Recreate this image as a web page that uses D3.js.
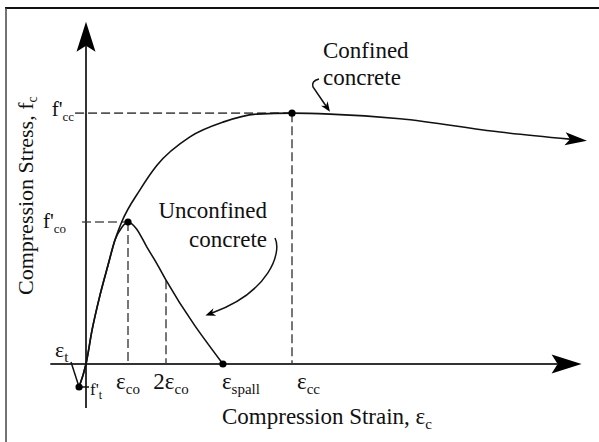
<!DOCTYPE html>
<html>
<head>
<meta charset="utf-8">
<script src="https://cdn.jsdelivr.net/npm/d3@7"></script>
<style>
  body { margin: 0; background: #fff; }
  svg text { font-family: "Liberation Serif", "Times New Roman", serif; fill: #111; }
</style>
</head>
<body>
<svg id="chart" width="599" height="442"></svg>
<script>
// Schematic values: strain in per mille, stress in MPa.
const confinedStrain = [-0.33, 0, 0.29, 0.67, 1.05, 1.38, 1.7, 2.57, 3.38, 4.95, 6.52, 8.14, 9.81, 11.62, 14.95, 19.71, 23.05];
const confinedStress = [-4.86, 0, 7.2, 14.6, 20.9, 26.2, 30.0, 36.8, 42.0, 48.0, 51.1, 52.8, 53.0, 52.8, 51.8, 49.0, 47.5];

const unconfinedStrain = [-0.33, 0, 0.29, 0.67, 1.05, 1.38, 1.71, 2.0, 2.38, 2.9, 3.36, 3.81, 6.52];
const unconfinedStress = [-4.86, 0, 7.2, 14.6, 20.9, 26.2, 28.9, 30.0, 28.7, 24.7, 21.3, 17.7, 0];

// Marked points: tension strength, unconfined peak, confined peak, spalling strain.
const pointNames = ["ft", "fco", "fcc", "spall"];
const pointStrain = [-0.33, 2.0, 9.81, 6.52];
const pointStress = [-4.86, 30.0, 53.0, 0];

// Strain labels along the x axis.
const strainTickMain = ["\u03b5", "2\u03b5", "\u03b5", "\u03b5"];
const strainTickSub = ["co", "co", "spall", "cc"];
const strainTickValue = [2.0, 3.81, 6.52, 9.81];

const xExtent = [-1.7, 23.6];
const yExtent = [-9.3, 72.3];

const svg = d3.select("#chart");

const x = d3.scaleLinear().domain([0, 20]).range([86, 506]);
const y = d3.scaleLinear().domain([0, 30]).range([364, 222]);

// Arrow heads (swept back shape).
const defs = svg.append("defs");
function arrowMarker(id, len, half, notch) {
    defs.append("marker")
        .attr("id", id)
        .attr("markerUnits", "userSpaceOnUse")
        .attr("orient", "auto")
        .attr("viewBox", (-len - 1) + " " + (-half - 1) + " " + (len + 2) + " " + (2 * half + 2))
        .attr("markerWidth", len + 2)
        .attr("markerHeight", 2 * half + 2)
        .attr("refX", -notch)
        .attr("refY", 0)
        .append("path")
        .attr("d", "M0,0 L" + (-len) + "," + (-half) + " L" + (-notch) + ",0 L" + (-len) + "," + half + " Z")
        .attr("fill", "#000");
}
arrowMarker("axisArrow", 30, 9.5, 24);
arrowMarker("curveArrow", 22, 6.5, 17);
arrowMarker("noteArrow", 10, 4, 7);

// Frame (only top and left edges show in the cropped figure).
svg.append("line").attr("x1", 5).attr("x2", 599).attr("y1", 8).attr("y2", 8)
    .attr("stroke", "#111").attr("stroke-width", 2);
svg.append("line").attr("x1", 6).attr("x2", 6).attr("y1", 8).attr("y2", 442)
    .attr("stroke", "#444").attr("stroke-width", 1.5);

// Dashed guide lines.
const guides = svg.append("g")
    .attr("stroke", "#555")
    .attr("stroke-width", 1.6)
    .attr("stroke-dasharray", "9,4")
    .attr("fill", "none");
guides.append("line").attr("x1", x(-0.52)).attr("x2", x(pointStrain[2]))
    .attr("y1", y(pointStress[2])).attr("y2", y(pointStress[2]));
guides.append("line").attr("x1", x(-0.19)).attr("x2", x(pointStrain[1]))
    .attr("y1", y(pointStress[1])).attr("y2", y(pointStress[1]));
guides.append("line").attr("x1", x(pointStrain[1])).attr("x2", x(pointStrain[1]))
    .attr("y1", y(pointStress[1])).attr("y2", y(0));
guides.append("line").attr("x1", x(strainTickValue[1])).attr("x2", x(strainTickValue[1]))
    .attr("y1", y(unconfinedStress[11])).attr("y2", y(0));
guides.append("line").attr("x1", x(pointStrain[2])).attr("x2", x(pointStrain[2]))
    .attr("y1", y(pointStress[2])).attr("y2", y(0));

// Axes.
svg.append("line")
    .attr("x1", x(xExtent[0])).attr("x2", x(xExtent[1]) - 24)
    .attr("y1", y(0)).attr("y2", y(0))
    .attr("stroke", "#333").attr("stroke-width", 2)
    .attr("marker-end", "url(#axisArrow)");
svg.append("line")
    .attr("x1", x(0)).attr("x2", x(0))
    .attr("y1", y(yExtent[0])).attr("y2", y(yExtent[1]) + 24)
    .attr("stroke", "#333").attr("stroke-width", 2)
    .attr("marker-end", "url(#axisArrow)");

// Curves.
const line = d3.line()
    .x(d => x(d[0]))
    .y(d => y(d[1]))
    .curve(d3.curveMonotoneX);

svg.append("path")
    .datum(d3.zip(confinedStrain, confinedStress))
    .attr("d", line)
    .attr("fill", "none")
    .attr("stroke", "#111")
    .attr("stroke-width", 1.6)
    .attr("marker-end", "url(#curveArrow)");

svg.append("path")
    .datum(d3.zip(unconfinedStrain, unconfinedStress))
    .attr("d", line)
    .attr("fill", "none")
    .attr("stroke", "#111")
    .attr("stroke-width", 1.6);

// Short tick at the tensile point.
svg.append("line")
    .attr("x1", x(pointStrain[0])).attr("x2", x(0) + 3)
    .attr("y1", y(pointStress[0])).attr("y2", y(pointStress[0]))
    .attr("stroke", "#111").attr("stroke-width", 1.5);

// Leader from the eps_t label to the tensile point.
svg.append("line")
    .attr("x1", 71).attr("y1", 362)
    .attr("x2", x(pointStrain[0])).attr("y2", y(pointStress[0]))
    .attr("stroke", "#111").attr("stroke-width", 1.5);

// Dots.
svg.append("g").selectAll("circle")
    .data(d3.zip(pointStrain, pointStress))
    .join("circle")
    .attr("cx", d => x(d[0]))
    .attr("cy", d => y(d[1]))
    .attr("r", 3.6)
    .attr("fill", "#000");

// Label helper: main text with a subscript.
function label(px, py, main, sub, size, subSize, anchor) {
    let t = svg.append("text")
        .attr("x", px).attr("y", py)
        .attr("font-size", size)
        .attr("text-anchor", anchor || "start");
    t.append("tspan").text(main);
    t.append("tspan").attr("font-size", subSize).attr("dy", subSize * 0.35).text(sub);
    return t;
}

// f' followed by a subscript, as one text element.
function primeLabel(px, py, sub, size, subSize, anchor) {
    let t = svg.append("text")
        .attr("x", px).attr("y", py)
        .attr("font-size", size)
        .attr("text-anchor", anchor || "start");
    t.append("tspan").text("f'");
    t.append("tspan").attr("font-size", subSize).attr("dy", subSize * 0.35).text(sub);
    return t;
}

// Stress labels.
primeLabel(x(0) - 12, y(pointStress[2]) + 3, "cc", 21, 13, "end");
primeLabel(x(0) - 20, y(pointStress[1]) + 6, "co", 21, 13, "end");
primeLabel(x(0) + 4, y(pointStress[0]) + 8, "t", 17, 12, "start");
label(55, 357, "\u03b5", "t", 22, 15, "start");

// Strain labels.
strainTickValue.forEach(function(v, i) {
    let px = x(v);
    let anchor = "middle";
    if (i === 2) { anchor = "start"; px = px - 1; }
    if (i === 3) { anchor = "start"; px = px + 5; }
    if (i === 1) { px = px + 5; }
    label(px, 389, strainTickMain[i], strainTickSub[i], 23, 15, anchor);
});

// Axis titles.
label(222, 424, "Compression Strain, \u03b5", "c", 23, 15, "start");
svg.append("g")
    .attr("transform", "translate(33,295) rotate(-90)")
    .call(function(g) {
        let t = g.append("text").attr("x", 0).attr("y", 0).attr("font-size", 22);
        t.append("tspan").text("Compression Stress, f");
        t.append("tspan").attr("font-size", 14).attr("dy", 4).text("c");
    });

// Curve annotations.
svg.append("text").attr("x", 323).attr("y", 58).attr("font-size", 23).text("Confined");
svg.append("text").attr("x", 323).attr("y", 85).attr("font-size", 23).text("concrete");
svg.append("text").attr("x", 267).attr("y", 218).attr("font-size", 23)
    .attr("text-anchor", "end").text("Unconfined");
svg.append("text").attr("x", 267).attr("y", 247).attr("font-size", 23)
    .attr("text-anchor", "end").text("concrete");

// Leader arrows to the curves.
svg.append("path")
    .attr("d", "M319,79 Q311,81 313,87 L326,106")
    .attr("fill", "none").attr("stroke", "#111").attr("stroke-width", 1.5)
    .attr("marker-end", "url(#noteArrow)");
svg.append("path")
    .attr("d", "M275,238 C282,252 270,292 212,313")
    .attr("fill", "none").attr("stroke", "#111").attr("stroke-width", 1.5)
    .attr("marker-end", "url(#noteArrow)");
</script>
</body>
</html>
